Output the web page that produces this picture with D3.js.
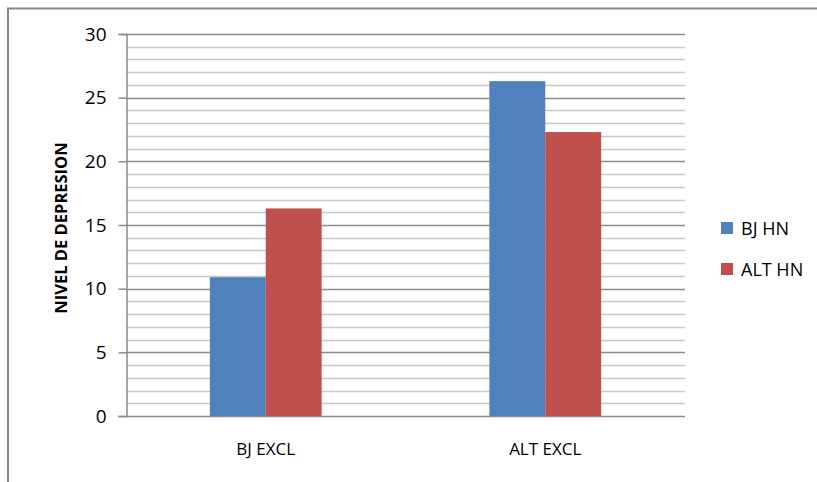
<!DOCTYPE html>
<html>
<head>
<meta charset="utf-8">
<script src="https://cdn.jsdelivr.net/npm/d3@7"></script>
<style>
  html, body { margin: 0; padding: 0; background: #fff; }
  svg { display: block; }
  text { font-family: "Open Sans", "Liberation Sans", sans-serif; fill: #000; }
</style>
</head>
<body>
<svg id="chart" width="817" height="482"></svg>
<script>
// Depression level by group
const categories = ["BJ EXCL", "ALT EXCL"];
const seriesNames = ["BJ HN", "ALT HN"];
const seriesColors = ["#4f81bd", "#c0504d"];
const bjHN = [10.9, 26.3];
const altHN = [16.3, 22.3];
const yTicks = [0, 5, 10, 15, 20, 25, 30];
const yTitle = "NIVEL DE DEPRESION";

const svg = d3.select("#chart");
const W = 817, H = 482;

// outer chart frame (runs off the right and bottom edges)
svg.append("rect")
  .attr("x", 8).attr("y", 8.5)
  .attr("width", W + 20).attr("height", H + 20)
  .attr("fill", "none").attr("stroke", "#8a8a8a").attr("stroke-width", 2);

const plot = { left: 126, right: 685, top: 34, bottom: 416 };

const y = d3.scaleLinear().domain([0, 30]).range([plot.bottom, plot.top]);
const x0 = d3.scaleBand().domain(categories).range([plot.left, plot.right]);
const x1 = d3.scaleBand().domain(seriesNames)
  .range([x0.bandwidth() * 0.3, x0.bandwidth() * 0.7]);

// minor gridlines every unit
const minor = d3.range(0, 31).filter(v => v % 5 !== 0);
svg.append("g").selectAll("line").data(minor).join("line")
  .attr("x1", plot.left).attr("x2", plot.right)
  .attr("y1", d => Math.round(y(d)) + 0.5).attr("y2", d => Math.round(y(d)) + 0.5)
  .attr("stroke", "#c8c8c8").attr("stroke-width", 1.5);

// major gridlines at tick values
svg.append("g").selectAll("line").data(yTicks).join("line")
  .attr("x1", plot.left).attr("x2", plot.right)
  .attr("y1", d => Math.round(y(d)) + 0.5).attr("y2", d => Math.round(y(d)) + 0.5)
  .attr("stroke", "#8c8c8c").attr("stroke-width", 1.5);

// bars
const data = categories.map((c, i) => ({ cat: c, vals: [bjHN[i], altHN[i]] }));
const groups = svg.append("g").selectAll("g").data(data).join("g")
  .attr("transform", d => `translate(${x0(d.cat)},0)`);
groups.selectAll("rect")
  .data(d => d.vals.map((v, j) => ({ name: seriesNames[j], v, color: seriesColors[j] })))
  .join("rect")
  .attr("x", d => x1(d.name))
  .attr("width", x1.bandwidth())
  .attr("y", d => y(d.v))
  .attr("height", d => y(0) - y(d.v))
  .attr("fill", d => d.color);

// y axis
const yAxis = d3.axisLeft(y).tickValues(yTicks).tickSize(8).tickPadding(12);
const yg = svg.append("g").attr("transform", `translate(${plot.left + 0.5},0)`).call(yAxis);
yg.select(".domain").attr("stroke", "#8c8c8c").attr("stroke-width", 1.5);
yg.selectAll(".tick line").attr("stroke", "#8c8c8c").attr("stroke-width", 1.5);
yg.selectAll(".tick text")
  .style("font-family", "'Open Sans', sans-serif").style("font-size", "19px").attr("fill", "#000");

// x axis labels
const xAxis = d3.axisBottom(x0).tickSize(0).tickPadding(27);
const xg = svg.append("g").attr("transform", `translate(0,${plot.bottom})`).call(xAxis);
xg.select(".domain").remove();
xg.selectAll(".tick text")
  .style("font-family", "'Open Sans', sans-serif").style("font-size", "17px").attr("fill", "#000");

// y axis title
svg.append("text")
  .attr("transform", `translate(67,228) rotate(-90)`)
  .attr("text-anchor", "middle")
  .style("font-size", "16.5px").attr("font-weight", "bold")
  .text(yTitle);

// legend
const legend = svg.append("g").selectAll("g").data(seriesNames).join("g")
  .attr("transform", (d, i) => `translate(721,${222 + i * 41})`);
legend.append("rect").attr("width", 12).attr("height", 12)
  .attr("fill", (d, i) => seriesColors[i]);
legend.append("text").attr("x", 20).attr("y", 13)
  .style("font-size", "18px").text(d => d);
</script>
</body>
</html>
